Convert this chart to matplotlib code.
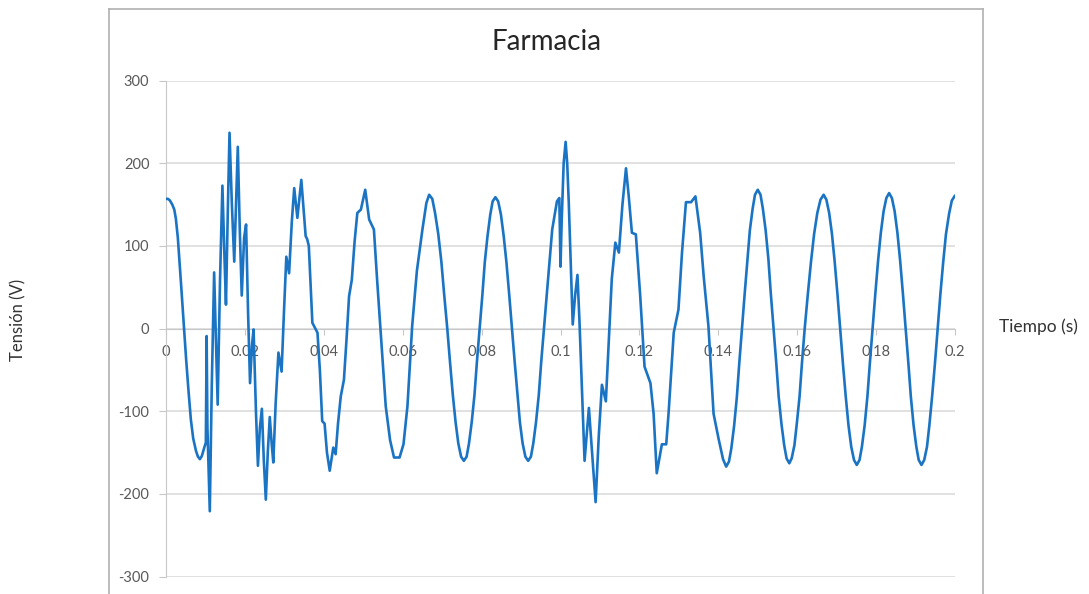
import matplotlib
matplotlib.use('Agg')
import matplotlib.pyplot as plt
from matplotlib.lines import Line2D
from matplotlib.ticker import FuncFormatter

plt.rcParams['font.family'] = ['Lato', 'DejaVu Sans']
plt.rcParams['axes.unicode_minus'] = False

# Data (time in ms, voltage in V)
tiempo_ms = [
    0.0, 0.5, 1.0, 1.6, 2.1, 2.5, 3.0, 3.4, 3.8, 4.2, 4.6, 5.1, 5.7, 6.3, 6.9,
    7.6, 8.1, 8.6, 9.1, 9.7, 10.1, 10.3, 10.5, 11.1, 11.6, 12.2, 12.7, 13.1,
    13.7, 14.3, 14.8, 15.2, 15.7, 16.1, 16.7, 17.3, 17.8, 18.2, 18.7, 19.2,
    19.8, 20.3, 20.8, 21.3, 21.8, 22.2, 22.8, 23.3, 23.8, 24.3, 24.8, 25.3,
    25.8, 26.3, 26.8, 27.2, 27.8, 28.5, 29.3, 29.9, 30.5, 31.2, 31.9, 32.5,
    33.3, 34.3, 35.4, 35.8, 36.2, 37.1, 38.4, 39.0, 39.6, 40.2, 40.8, 41.5,
    42.4, 43.0, 43.6, 44.3, 45.1, 45.8, 46.4, 47.1, 47.8, 48.5, 49.4, 50.5,
    51.5, 52.7, 53.5, 54.5, 55.7, 56.8, 57.8, 59.2, 60.2, 61.2, 62.4, 63.6,
    65.0, 66.0,
    66.7, 67.5, 68.2, 69.0, 69.8, 70.5, 71.3, 72.0, 72.7, 73.4, 74.1, 74.8,
    75.5, 76.2, 76.8, 77.5, 78.2, 78.8, 79.5, 80.2, 80.8, 81.5, 82.2, 82.8,
    83.5, 84.2, 84.9, 85.6, 86.3, 87.0, 87.7, 88.4, 89.1, 89.7, 90.4, 91.1,
    91.8, 92.5, 93.1, 93.8, 94.5, 95.1, 95.8, 96.5,
    97.2, 97.9, 99.1, 99.7, 100.0, 100.3, 100.8, 101.3, 101.7, 102.1, 103.1,
    103.7, 104.3, 104.8, 105.1, 106.1, 107.2, 108.0, 108.9, 109.7, 110.5,
    111.5, 112.3, 113.0, 113.9, 114.8, 115.7, 116.6, 117.3, 118.1, 119.1,
    120.2, 121.3, 122.8, 123.6, 124.4, 125.7, 126.8, 127.4, 128.7, 129.9,
    130.8, 131.8, 133.1, 134.2, 135.4, 136.3, 137.5, 138.8, 140.1, 141.2,
    142.0, 142.7, 143.3, 144.0, 144.7, 145.3, 146.0, 146.7, 147.4, 148.0,
    148.7, 149.3, 150.0, 150.7, 151.3, 152.0, 152.7, 153.3, 154.0, 154.7,
    155.3, 156.0, 156.7, 157.3, 158.0, 158.6, 159.3, 159.9, 160.6, 161.2,
    161.9, 162.7, 163.5, 164.3, 165.1, 165.9, 166.7, 167.4, 168.1, 168.8,
    169.5, 170.2, 170.9, 171.6, 172.3, 173.0, 173.7, 174.4, 175.1, 175.8,
    176.4, 177.1, 177.8, 178.4, 179.1, 179.8, 180.5, 181.2, 181.9, 182.6,
    183.3, 184.0, 184.7, 185.4, 186.1, 186.8, 187.5, 188.2, 188.8, 189.5,
    190.2, 190.8, 191.5, 192.2, 192.9, 193.5, 194.2, 194.9, 195.6, 196.3,
    197.0, 197.7, 198.5, 199.2, 200.0,
]
tension_v = [
    157, 157, 155, 150, 144, 133, 110, 83, 55, 27, 0, -37, -75, -110, -133,
    -148, -155, -158, -154, -144, -138, -9, -120, -221, -70, 68, -20, -92,
    60, 173, 90, 29, 150, 237, 150, 81, 160, 220, 120, 40,
    110, 126, 20, -66, -20, -1, -100, -166, -120, -97, -160, -207,
    -150, -107, -140, -162, -90, -29, -52, 20, 87, 67, 130, 170,
    134, 180, 112, 108, 100, 7, -5, -50, -112, -115, -150, -172,
    -144, -152, -115, -82, -62, -10, 39, 59, 105, 140, 144, 168,
    132, 120, 60, -10, -94, -135, -156, -156, -140, -94, 3, 70,
    120, 152,
    162, 157, 140, 115, 81, 42, 0, -41, -80, -113, -139, -155,
    -160, -155, -139, -113, -80, -41, 0, 41, 80, 112, 138, 154,
    159, 154, 138, 112, 80, 41, 0, -41, -80, -113, -139, -155,
    -160, -155, -139, -113, -80, -41, 0, 40,
    80, 120, 154, 158, 75, 130, 200, 226, 200, 152, 5,
    40, 65, 10, -29, -160, -96, -150, -210, -130, -68,
    -88, -10, 60, 104, 92, 150, 194, 160, 116, 114,
    40, -46, -66, -103, -175, -140, -140, -102, -5, 23,
    92, 153, 153, 160, 116, 63, 3, -103, -134, -158,
    -167, -161, -145, -118, -83, -43, 0, 43, 84, 119,
    145, 162, 168, 162, 145, 119, 84, 43, 0, -42,
    -82, -115, -141, -157, -163, -157, -141, -115, -82, -42,
    0, 42, 81, 115, 140, 156, 162, 156, 140, 115,
    81, 42, 0, -43, -82, -117, -143, -159, -165, -159,
    -143, -117, -82, -43, 0, 42, 82, 116, 142, 158,
    164, 158, 142, 116, 82, 42, 0, -43, -82, -117,
    -143, -159, -165, -159, -143, -117, -82, -43, 0, 42,
    80, 114, 139, 155, 161,
]
tiempo_s = [t / 1000 for t in tiempo_ms]

x_ticks = [0, 0.02, 0.04, 0.06, 0.08, 0.1, 0.12, 0.14, 0.16, 0.18, 0.2]
y_ticks = [-300, -200, -100, 0, 100, 200, 300]

W, H = 1089, 594
fig = plt.figure(figsize=(W / 100, H / 100), dpi=100)
fig.patch.set_facecolor('white')
ax = fig.add_axes([166 / W, 1 - 576.5 / H, 789 / W, 495.8 / H])

ax.plot(tiempo_s, tension_v, color='#1b74c3', lw=1.9,
        solid_joinstyle='round', solid_capstyle='round', zorder=3)

ax.set_xlim(0, 0.2)
ax.set_ylim(-300, 300)
ax.set_xticks(x_ticks)
ax.set_yticks(y_ticks)
ax.xaxis.set_major_formatter(FuncFormatter(lambda x, p: f'{x:g}'))

# Style (Excel look)
ax.yaxis.grid(True, color='#d9d9d9', lw=1.1)
ax.set_axisbelow(True)
ax.spines['top'].set_visible(False)
ax.spines['right'].set_visible(False)
ax.spines['left'].set_color('#c8c8c8')
ax.spines['bottom'].set_color('#c8c8c8')
ax.spines['bottom'].set_position(('data', 0))
ax.tick_params(axis='y', direction='out', length=5, color='#c8c8c8',
               labelcolor='#595959', labelsize=10.5, pad=7)
ax.tick_params(axis='x', direction='out', length=4, color='#c8c8c8',
               labelcolor='#595959', labelsize=10.5, pad=8)

fig.text(546 / W, 1 - 42 / H, 'Farmacia', ha='center', va='center',
         fontsize=20, color='#262626')
fig.text(1038 / W, 1 - 327 / H, 'Tiempo (s)', ha='center', va='center',
         fontsize=12.5, color='#333333')
fig.text(18 / W, 1 - 320 / H, 'Tensión (V)', ha='center', va='center',
         rotation=90, fontsize=12, color='#333333')

# chart frame
frame = dict(transform=fig.transFigure, color='#b0b0b0', lw=1.2)
fig.add_artist(Line2D([109 / W, 983 / W], [1 - 9 / H, 1 - 9 / H], **frame))
fig.add_artist(Line2D([109 / W, 109 / W], [0, 1 - 9 / H], **frame))
fig.add_artist(Line2D([983 / W, 983 / W], [0, 1 - 9 / H], **frame))

fig.savefig('out.png', dpi=100, facecolor='white')
